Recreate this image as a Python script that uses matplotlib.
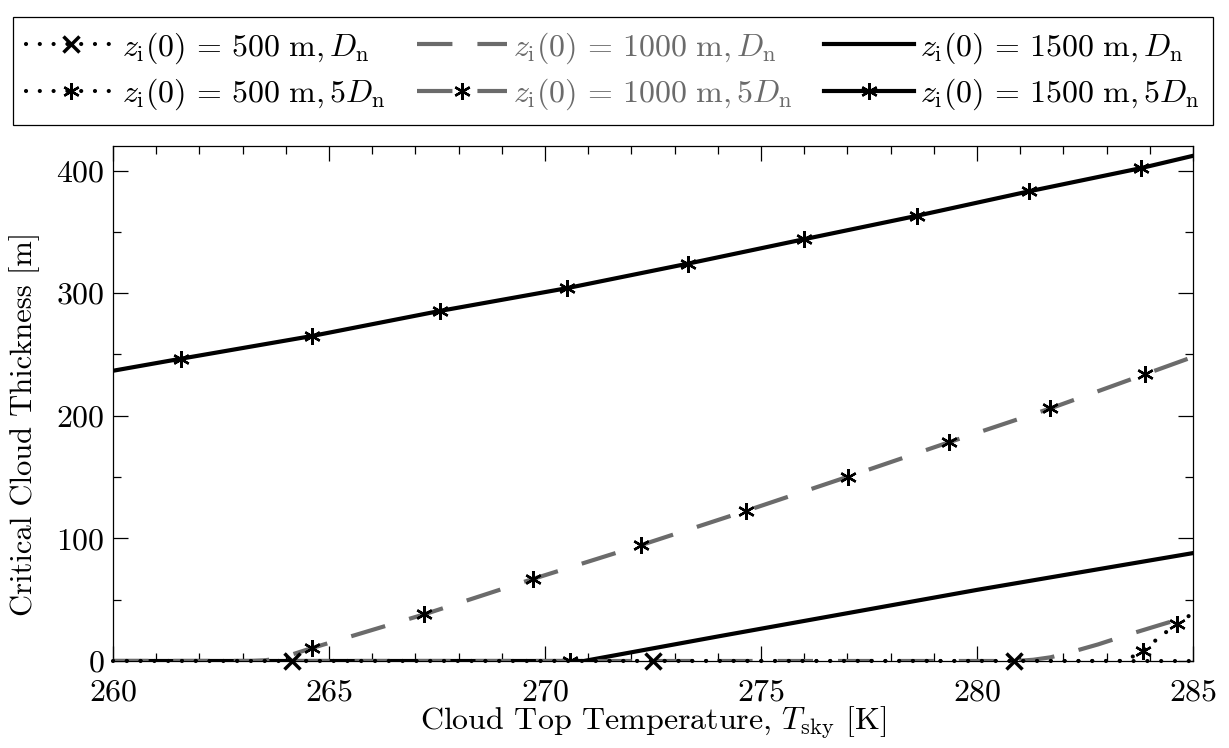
import numpy as np
import matplotlib.pyplot as plt
from matplotlib.ticker import MultipleLocator

plt.rcParams['font.family'] = 'serif'
plt.rcParams['font.serif'] = ['cmr10']
plt.rcParams['mathtext.fontset'] = 'cm'
plt.rcParams['axes.formatter.use_mathtext'] = True
plt.rcParams['font.size'] = 23

GREY = '#6b6b6b'

# critical cloud thickness [m] against cloud top temperature [K]
# z_i(0) = 500 m
T_500_dn = [260, 264.15, 272.5, 280.85, 285]
h_500_dn = [0, 0, 0, 0, 0]
mark_500_dn = [1, 2, 3]

T_500_5dn = [260, 270.58, 283.3, 283.55, 283.84, 284.14, 284.43, 284.62, 285]
h_500_5dn = [0, 0, 0, 2.5, 8.4, 17, 25, 30, 39]
mark_500_5dn = [1, 4, 7]

# z_i(0) = 1000 m
T_1000_dn = [260, 280.9, 281.3, 281.7, 282.1, 282.8, 283.5, 284.2, 285]
h_1000_dn = [0, 0, 1, 3, 6.5, 13.5, 21.5, 29, 37.5]

T_1000_5dn = [260, 263.2, 263.5, 263.8, 264.1, 264.6, 267.2, 269.73, 272.22,
              274.65, 277.02, 279.36, 281.7, 283.9, 285]
h_1000_5dn = [0, 0, 0.5, 2, 4.8, 10.5, 38, 67, 94.5, 122.4, 150.4, 178.5,
              206, 234, 248]
mark_1000_5dn = [5, 6, 7, 8, 9, 10, 11, 12, 13]

# z_i(0) = 1500 m
T_1500_dn = [260, 270.9, 274, 277, 280, 282.5, 285]
h_1500_dn = [0, 0, 20, 39, 58, 73, 88]

T_1500_5dn = [260, 261.57, 264.6, 267.57, 270.5, 273.3, 276.0, 278.6, 281.2,
              283.8, 285]
h_1500_5dn = [236.7, 246.5, 265, 285.5, 304, 324, 344, 363, 383, 402, 412]
mark_1500_5dn = [1, 2, 3, 4, 5, 6, 7, 8, 9]

labels = [r'$z_{\rm i}(0)\,=\,500\ {\rm m}, D_{\rm n}$',
          r'$z_{\rm i}(0)\,=\,500\ {\rm m}, 5D_{\rm n}$',
          r'$z_{\rm i}(0)\,=\,1000\ {\rm m}, D_{\rm n}$',
          r'$z_{\rm i}(0)\,=\,1000\ {\rm m}, 5D_{\rm n}$',
          r'$z_{\rm i}(0)\,=\,1500\ {\rm m}, D_{\rm n}$',
          r'$z_{\rm i}(0)\,=\,1500\ {\rm m}, 5D_{\rm n}$']

fig = plt.figure(figsize=(12.29, 7.48), dpi=100)
ax = fig.add_axes([113/1229, 1 - 661/748, 1080/1229, 515/748])

lw = 3.0
dot = (0.01, 3.3)
dash = (8.5, 6.0)
star = dict(marker=(6, 2, 0), markersize=12, markeredgewidth=1.7,
            markeredgecolor='black', markerfacecolor='black')

l1500 = ax.plot(T_1500_dn, h_1500_dn, color='black', lw=lw, zorder=2)[0]
l1500s = ax.plot(T_1500_5dn, h_1500_5dn, color='black', lw=lw, zorder=2,
                 markevery=mark_1500_5dn, **star)[0]

l1000 = ax.plot(T_1000_dn, h_1000_dn, color=GREY, lw=lw, zorder=3,
                dashes=dash)[0]
l1000s = ax.plot(T_1000_5dn, h_1000_5dn, color=GREY, lw=lw, zorder=3,
                 dashes=dash, markevery=mark_1000_5dn, **star)[0]

l500 = ax.plot(T_500_dn, h_500_dn, color='black', lw=lw, zorder=4,
               dashes=dot, dash_capstyle='round', marker='x', markersize=11,
               markeredgewidth=2.5, markevery=mark_500_dn, clip_on=False)[0]
l500s = ax.plot(T_500_5dn, h_500_5dn, color='black', lw=lw, zorder=4,
                dashes=dot, dash_capstyle='round', markevery=mark_500_5dn,
                **star)[0]

ax.set_xlim(260, 285)
ax.set_ylim(0, 420)
ax.xaxis.set_major_locator(MultipleLocator(5))
ax.xaxis.set_minor_locator(MultipleLocator(1))
ax.yaxis.set_major_locator(MultipleLocator(100))
ax.yaxis.set_minor_locator(MultipleLocator(50))
ax.tick_params(which='both', direction='in', top=True, right=True, width=0.9)
ax.tick_params(which='major', length=11, pad=6)
ax.tick_params(axis='x', which='major', pad=13)
ax.tick_params(which='minor', length=6)
for spine in ax.spines.values():
    spine.set_linewidth(0.9)

ax.set_xlabel(r'Cloud Top Temperature, $T_{\rm sky}$ [K]', labelpad=-1)
ax.set_ylabel('Critical Cloud Thickness [m]', fontsize=22)
ax.yaxis.set_label_coords(-0.068, 0.46)

handles = [l500, l500s, l1000, l1000s, l1500, l1500s]
leg = fig.legend(handles, labels, ncol=3, loc='lower left',
                 bbox_to_anchor=(13/1229, 1 - 125/748, 1200/1229, 122/748),
                 mode='expand', borderaxespad=0, fancybox=False,
                 edgecolor='black', framealpha=1, numpoints=1,
                 handlelength=2.8, handletextpad=0.2, columnspacing=0.8,
                 labelspacing=0.35, fontsize=23)
leg.get_frame().set_linewidth(0.9)
for txt in leg.get_texts()[2:4]:
    txt.set_color(GREY)

fig.savefig('out.png', dpi=100)
